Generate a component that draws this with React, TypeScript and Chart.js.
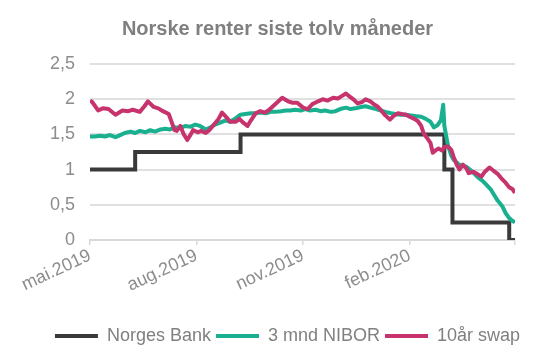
import React, { useEffect, useRef } from "react";
import { Chart, registerables } from "chart.js";

Chart.register(...registerables);

// Days counted from 10 May 2019
const tickDays = [0, 92, 184, 276, 367];
const tickLabels = ["mai.2019", "aug.2019", "nov.2019", "feb.2020", ""];
const yTickLabels = ["0", "0,5", "1", "1,5", "2", "2,5"];

const nbDays = [0, 39, 130, 306, 313, 362, 367];
const nbRates = [1.0, 1.25, 1.5, 1.0, 0.25, 0.0, 0.0];

const niborDays = [0, 4, 9, 13, 17, 22, 26, 30, 35, 39, 43, 48, 52, 56, 61, 65, 69, 74, 78, 82, 87, 91, 95, 100, 104, 108, 113, 117, 121, 126, 130, 134, 139, 143, 147, 152, 156, 160, 165, 169, 173, 177, 182, 186, 190, 195, 199, 203, 208, 212, 216, 221, 225, 229, 234, 238, 242, 247, 251, 255, 260, 264, 268, 273, 277, 281, 286, 290, 294, 297, 300, 303, 305, 306, 309, 312, 314, 318, 321, 325, 328, 332, 335, 339, 342, 346, 349, 352, 356, 359, 362, 365, 367];
const niborRates = [1.47, 1.47, 1.48, 1.47, 1.49, 1.46, 1.49, 1.52, 1.54, 1.52, 1.55, 1.53, 1.56, 1.54, 1.57, 1.58, 1.57, 1.6, 1.59, 1.62, 1.61, 1.64, 1.62, 1.57, 1.6, 1.64, 1.67, 1.7, 1.68, 1.73, 1.78, 1.79, 1.8, 1.8, 1.81, 1.8, 1.82, 1.82, 1.83, 1.84, 1.84, 1.85, 1.84, 1.86, 1.84, 1.85, 1.83, 1.84, 1.82, 1.83, 1.86, 1.88, 1.86, 1.87, 1.89, 1.9, 1.88, 1.86, 1.84, 1.82, 1.8, 1.79, 1.78, 1.78, 1.77, 1.76, 1.75, 1.72, 1.68, 1.6, 1.63, 1.7, 1.92, 1.62, 1.35, 1.2, 1.14, 1.08, 1.05, 1.04, 1.0, 0.94, 0.89, 0.84, 0.79, 0.72, 0.64, 0.56, 0.48, 0.38, 0.31, 0.27, 0.25];

const swapDays = [0, 2, 7, 11, 16, 22, 28, 33, 37, 43, 47, 50, 55, 59, 63, 68, 70, 73, 75, 78, 81, 84, 87, 89, 93, 96, 100, 103, 106, 111, 114, 118, 121, 126, 129, 132, 136, 139, 143, 147, 151, 154, 158, 162, 166, 171, 175, 179, 184, 188, 192, 197, 201, 205, 210, 214, 217, 221, 224, 228, 231, 235, 238, 242, 245, 248, 252, 255, 259, 262, 266, 269, 273, 276, 280, 283, 286, 288, 291, 294, 296, 299, 301, 304, 306, 309, 312, 314, 317, 319, 322, 325, 327, 331, 334, 338, 341, 345, 348, 352, 355, 358, 362, 365, 367];
const swapRates = [1.98, 1.96, 1.84, 1.87, 1.86, 1.78, 1.84, 1.83, 1.85, 1.82, 1.9, 1.97, 1.89, 1.87, 1.83, 1.79, 1.7, 1.56, 1.55, 1.62, 1.5, 1.42, 1.5, 1.56, 1.53, 1.55, 1.52, 1.56, 1.62, 1.72, 1.81, 1.74, 1.68, 1.68, 1.72, 1.67, 1.62, 1.7, 1.8, 1.83, 1.81, 1.84, 1.9, 1.96, 2.02, 1.97, 1.95, 1.95, 1.88, 1.86, 1.93, 1.97, 2.0, 1.98, 2.02, 2.01, 2.04, 2.08, 2.04, 1.99, 1.94, 1.96, 2.0, 1.97, 1.93, 1.9, 1.83, 1.77, 1.71, 1.76, 1.8, 1.79, 1.78, 1.75, 1.72, 1.69, 1.62, 1.52, 1.45, 1.38, 1.24, 1.28, 1.3, 1.27, 1.32, 1.33, 1.28, 1.18, 1.06, 1.0, 1.07, 1.02, 0.95, 0.97, 0.94, 0.9, 0.97, 1.03, 0.99, 0.94, 0.88, 0.83, 0.75, 0.72, 0.67];

const seriesNames = ["Norges Bank", "3 mnd NIBOR", "10år swap"];
const seriesColors = ["#3a3a3a", "#19b08f", "#c6336d"];

const toPoints = (xs: number[], ys: number[]) => xs.map((x, i) => ({ x, y: ys[i] }));

const legendShift = {
  id: "legendShift",
  afterLayout(chart: any) {
    if (chart.legend) {
      chart.legend.left += 10;
      chart.legend.right += 10;
    }
  },
};

export default function App() {
  const ref = useRef<HTMLCanvasElement | null>(null);

  useEffect(() => {
    document.body.style.margin = "0";
    const canvas = ref.current;
    if (!canvas) return;
    const font = "'Liberation Sans', Arial, sans-serif";
    Chart.defaults.font.family = font;
    const lineStyle = {
      borderWidth: 4,
      pointRadius: 0,
      tension: 0,
      borderJoinStyle: "round",
      borderCapStyle: "butt",
    };
    const chart = new Chart(canvas, {
      type: "line",
      plugins: [legendShift],
      data: {
        datasets: [
          {
            ...lineStyle,
            label: seriesNames[0],
            data: toPoints(nbDays, nbRates),
            borderColor: seriesColors[0],
            backgroundColor: seriesColors[0],
            stepped: "before",
            borderJoinStyle: "miter",
            order: 2,
          },
          {
            ...lineStyle,
            label: seriesNames[1],
            data: toPoints(niborDays, niborRates),
            borderColor: seriesColors[1],
            backgroundColor: seriesColors[1],
            order: 1,
          },
          {
            ...lineStyle,
            label: seriesNames[2],
            data: toPoints(swapDays, swapRates),
            borderColor: seriesColors[2],
            backgroundColor: seriesColors[2],
            order: 0,
          },
        ],
      },
      options: {
        responsive: false,
        animation: false,
        layout: { padding: { top: 0, left: 20, right: 20, bottom: 5 } },
        plugins: {
          tooltip: { enabled: false },
          title: {
            display: true,
            text: "Norske renter siste tolv måneder",
            color: "#7f7f7f",
            font: { family: font, size: 20, weight: "bold" },
            padding: { top: 17, bottom: 23 },
          },
          legend: {
            position: "bottom",
            labels: {
              usePointStyle: true,
              pointStyle: "line",
              pointStyleWidth: 43,
              color: "#808080",
              font: { family: font, size: 18 },
              padding: 5,
              sort: (a: any, b: any) => a.datasetIndex - b.datasetIndex,
            },
          },
        },
        scales: {
          x: {
            type: "linear",
            min: 0,
            max: 367,
            afterBuildTicks: (scale: any) => {
              scale.ticks = tickDays.map((v) => ({ value: v }));
            },
            afterFit: (scale: any) => {
              scale.height = 82;
            },
            ticks: {
              autoSkip: false,
              minRotation: 25,
              maxRotation: 25,
              color: "#8c8c8c",
              font: { family: font, size: 18 },
              padding: 0,
              callback: (_v: any, i: number) => tickLabels[i],
            },
            grid: {
              drawOnChartArea: false,
              drawTicks: true,
              tickLength: 5,
              color: "#d9d9d9",
              lineWidth: 1.5,
            },
            border: { display: true, color: "#d9d9d9", width: 2 },
          },
          y: {
            min: 0,
            max: 2.5,
            afterBuildTicks: (scale: any) => {
              scale.ticks = yTickLabels.map((_, i) => ({ value: i * 0.5 }));
            },
            afterFit: (scale: any) => {
              scale.width = 70;
            },
            ticks: {
              color: "#8c8c8c",
              font: { family: font, size: 18 },
              padding: 15,
              callback: (_v: any, i: number) => yTickLabels[i],
            },
            grid: {
              color: "#e0e0e0",
              lineWidth: 2,
              drawTicks: false,
            },
            border: { display: false },
          },
          yRight: {
            position: "right",
            min: 0,
            max: 2.5,
            afterFit: (scale: any) => {
              scale.width = 20;
            },
            ticks: { display: false },
            grid: { display: false },
            border: { display: false },
          },
        },
      },
    } as any);
    return () => chart.destroy();
  }, []);

  return <canvas ref={ref} width={555} height={360} style={{ display: "block" }} />;
}
